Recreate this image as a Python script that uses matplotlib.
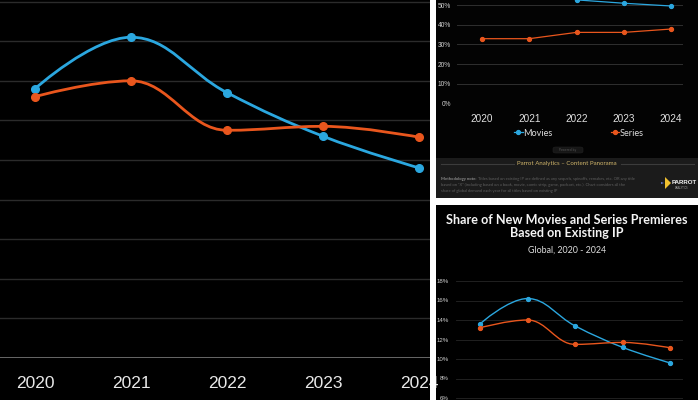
import matplotlib
matplotlib.use("Agg")
import matplotlib.pyplot as plt
from matplotlib.patches import Rectangle, PathPatch, FancyBboxPatch, Polygon
from matplotlib.path import Path
from matplotlib.lines import Line2D

# ---------------- data ----------------
years = [2020, 2021, 2022, 2023, 2024]
year_labels = ["2020", "2021", "2022", "2023", "2024"]
# Share of new premieres based on existing IP (%)
movies_share = [13.6, 16.2, 13.4, 11.2, 9.6]
series_share = [13.2, 14.0, 11.5, 11.7, 11.15]
share_ticks = [6, 8, 10, 12, 14, 16, 18]
share_tick_labels = ["6%", "8%", "10%", "12%", "14%", "16%", "18%"]
grid_ticks_left = [0, 2, 4, 6, 8, 10, 12, 14, 16, 18]
# Share of demand (top-right crop); first two movie values lie above the crop
movies_demand = [56.0, 58.0, 52.6, 50.9, 49.5]
series_demand = [32.9, 32.9, 36.1, 36.1, 37.8]
demand_ticks = [0, 10, 20, 30, 40, 50]
demand_tick_labels = ["0%", "10%", "20%", "30%", "40%", "50%"]
series_names = ["Movies", "Series"]

BLUE = "#2ba7df"
ORANGE = "#e9561d"
W, H = 700, 400
NARROW = ["Liberation Sans Narrow", "Liberation Sans", "DejaVu Sans"]
GEO = ["Lato", "DejaVu Sans"]

fig = plt.figure(figsize=(7, 4), dpi=100, facecolor="white")


def frect(x0, y0, x1, y1):
    """pixel box (top-left origin) -> figure fraction rect"""
    return [x0 / W, 1 - y1 / H, (x1 - x0) / W, (y1 - y0) / H]


def bg(x0, y0, x1, y1, color, z=-5):
    r = Rectangle((x0 / W, 1 - y1 / H), (x1 - x0) / W, (y1 - y0) / H,
                  transform=fig.transFigure, facecolor=color,
                  edgecolor="none", zorder=z)
    fig.add_artist(r)


def fx(px):
    return px / W


def fy(py):
    return 1 - py / H


def spline_path(xs, ys):
    n = len(xs)
    lc = [(xs[i], ys[i]) for i in range(n)]
    rc = [(xs[i], ys[i]) for i in range(n)]
    sm, den = 1.5, 2.5
    for i in range(1, n - 1):
        x, y = xs[i], ys[i]
        lx, ly = (sm * x + xs[i - 1]) / den, (sm * y + ys[i - 1]) / den
        rx, ry = (sm * x + xs[i + 1]) / den, (sm * y + ys[i + 1]) / den
        if rx != lx:
            corr = ((ry - ly) * (rx - x)) / (rx - lx) + y - ry
            ly += corr
            ry += corr
        if ly > ys[i - 1] and ly > y:
            ly = max(ys[i - 1], y)
            ry = 2 * y - ly
        elif ly < ys[i - 1] and ly < y:
            ly = min(ys[i - 1], y)
            ry = 2 * y - ly
        if ry > ys[i + 1] and ry > y:
            ry = max(ys[i + 1], y)
            ly = 2 * y - ry
        elif ry < ys[i + 1] and ry < y:
            ry = min(ys[i + 1], y)
            ly = 2 * y - ry
        lc[i] = (lx, ly)
        rc[i] = (rx, ry)
    verts = [(xs[0], ys[0])]
    codes = [Path.MOVETO]
    for i in range(1, n):
        verts += [rc[i - 1], lc[i], (xs[i], ys[i])]
        codes += [Path.CURVE4] * 3
    return Path(verts, codes)


def draw_spline(ax, xs, ys, color, lw, ms):
    ax.add_patch(PathPatch(spline_path(xs, ys), facecolor="none",
                           edgecolor=color, lw=lw, capstyle="round",
                           zorder=3))
    ax.plot(xs, ys, linestyle="none", marker="o", ms=ms, color=color,
            zorder=4)


# ---------------- panel backgrounds ----------------
bg(0, 0, 430, 400, "#000000")
bg(436, 0, 698, 158, "#030303")
bg(436, 158, 698, 198, "#1b1b1b")
bg(436, 205, 698, 400, "#000000")
# white gutters between the pieces (drawn above everything)
bg(430, 0, 436, 400, "white", z=20)
bg(698, 0, 700, 400, "white", z=20)
bg(436, 198, 698, 205, "white", z=20)

# ---------------- left (zoomed) panel ----------------
axL = fig.add_axes(frect(0, 0, 430, 358))
axL.set_facecolor("none")
axL.set_xlim(2020 - 35 / 96, 2020 + 395 / 96)
axL.set_ylim(0, 18.08)
for s in axL.spines.values():
    s.set_visible(False)
axL.set_yticks(grid_ticks_left)
axL.set_yticklabels([])
axL.tick_params(axis="y", length=0)
axL.grid(axis="y", color="#2b2b2b", lw=1.0)
axL.axhline(0, color="#6e6e6e", lw=1.3, zorder=2)
axL.set_xticks(years)
axL.set_xticklabels(year_labels, fontsize=12.5, color="#e8e8e8",
                    family=NARROW)
axL.tick_params(axis="x", length=0, pad=13)
draw_spline(axL, years, movies_share, BLUE, 2.0, 5.5)
draw_spline(axL, years, series_share, ORANGE, 2.0, 5.5)

# ---------------- top-right panel (cropped) ----------------
axT = fig.add_axes(frect(457, 0, 683, 103.5))
axT.set_facecolor("none")
axT.set_xlim(2020 - 25 / 47.25, 2024 + 12 / 47.25)
axT.set_ylim(0, 52.54)
for s in axT.spines.values():
    s.set_visible(False)
axT.set_yticks(demand_ticks)
axT.set_yticklabels(demand_tick_labels, fontsize=4.8, color="#d0d0d0",
                    family=NARROW)
axT.tick_params(axis="y", length=0, pad=4.3)
axT.grid(axis="y", color="#2f2f2f", lw=0.7)
axT.set_xticks(years)
axT.set_xticklabels(year_labels, fontsize=7.2, color="#e0e0e0",
                    family=NARROW)
axT.tick_params(axis="x", length=0, pad=7.5)
lm, = axT.plot(years, movies_demand, color=BLUE, lw=0.9, marker="o", ms=2.8)
ls, = axT.plot(years, series_demand, color=ORANGE, lw=0.9, marker="o",
               ms=2.8)
axT.legend([lm, ls], series_names, loc="center",
           bbox_to_anchor=(fx(579), fy(133)), bbox_transform=fig.transFigure,
           ncol=2, frameon=False, labelcolor="#dddddd",
           handlelength=0.9, handletextpad=0.1, columnspacing=6.3,
           prop={"family": GEO, "size": 6.6})

# powered-by pill
fig.add_artist(FancyBboxPatch((fx(553), fy(153)), 30 / W, 6 / H,
                              boxstyle="round,pad=0,rounding_size=0.004",
                              transform=fig.transFigure, facecolor="#161616",
                              edgecolor="#222222", lw=0.4))
fig.text(fx(568), fy(150), "Powered by", fontsize=2.2, color="#555555",
         ha="center", va="center")

# footer
fig.text(fx(567), fy(164), "Parrot Analytics \u2013 Content Panorama",
         fontsize=4.4, color="#cfb46a", ha="center", va="center",
         family=GEO)
fig.add_artist(Line2D([fx(441), fx(514)], [fy(164), fy(164)],
                      transform=fig.transFigure, color="#3c3c3c", lw=0.8))
fig.add_artist(Line2D([fx(621), fx(694)], [fy(164), fy(164)],
                      transform=fig.transFigure, color="#3c3c3c", lw=0.8))
note_lines = [
    "Titles based on existing IP are defined as any sequels, spinoffs, remakes, etc. OR any title",
    "based on \u201cX\u201d (including based on a book, movie, comic strip, game, podcast, etc.). Chart considers all the",
    "share of global demand each year for all titles based on existing IP",
]
t_bold = fig.text(fx(441), fy(179), "Methodology note:", fontsize=3.0,
                  color="#8a8a8a", ha="left", va="center", weight="bold",
                  family=GEO)
renderer = fig.canvas.get_renderer()
bb = t_bold.get_window_extent(renderer=renderer)
fig.text((bb.x1 + 2) / W, fy(179), note_lines[0], fontsize=3.0,
         color="#5e5e5e", ha="left", va="center", family=GEO)
fig.text(fx(441), fy(185), note_lines[1], fontsize=3.0, color="#5e5e5e",
         ha="left", va="center", family=GEO)
fig.text(fx(441), fy(191), note_lines[2], fontsize=3.0, color="#5e5e5e",
         ha="left", va="center", family=GEO)
# logo
fig.add_artist(Polygon([[fx(665), fy(177)], [fx(671), fy(183)],
                        [fx(665), fy(189)]], closed=True,
                       transform=fig.transFigure, facecolor="#f0c030",
                       edgecolor="none"))
fig.add_artist(Polygon([[fx(661), fy(182)], [fx(664), fy(183)],
                        [fx(661), fy(184)]], closed=True,
                       transform=fig.transFigure, facecolor="#6b7bd6",
                       edgecolor="none"))
fig.text(fx(672), fy(182), "PARROT", fontsize=4.4, color="#f2f2f2",
         ha="left", va="center", weight="bold", family=NARROW)
fig.text(fx(675), fy(188), "ANALYTICS", fontsize=1.8, color="#aaaaaa",
         ha="left", va="center", family=GEO)

# ---------------- bottom-right panel ----------------
fig.text(fx(567), fy(220), "Share of New Movies and Series Premieres",
         fontsize=9.1, color="#f4f4f4", weight="bold", ha="center",
         va="center", family=GEO)
fig.text(fx(567), fy(233), "Based on Existing IP", fontsize=9.1,
         color="#f4f4f4", weight="bold", ha="center", va="center",
         family=GEO)
fig.text(fx(567), fy(250), "Global, 2020 - 2024", fontsize=6.4,
         color="#dddddd", ha="center", va="center", family=GEO)

axB = fig.add_axes(frect(456, 272, 683, 400))
axB.set_facecolor("none")
axB.set_xlim(2020 - 24 / 47.5, 2020 + 203 / 47.5)
axB.set_ylim(18 - 119 / 9.75, 18 + 9 / 9.75)
for s in axB.spines.values():
    s.set_visible(False)
axB.set_yticks(share_ticks)
axB.set_yticklabels(share_tick_labels, fontsize=4.4, color="#cfcfcf",
                    family=NARROW)
axB.tick_params(axis="y", length=0, pad=5)
axB.grid(axis="y", color="#262626", lw=0.6)
axB.set_xticks([])
draw_spline(axB, years, movies_share, BLUE, 1.0, 2.8)
draw_spline(axB, years, series_share, ORANGE, 1.0, 2.8)

fig.savefig("out.png", dpi=100, facecolor="white")
